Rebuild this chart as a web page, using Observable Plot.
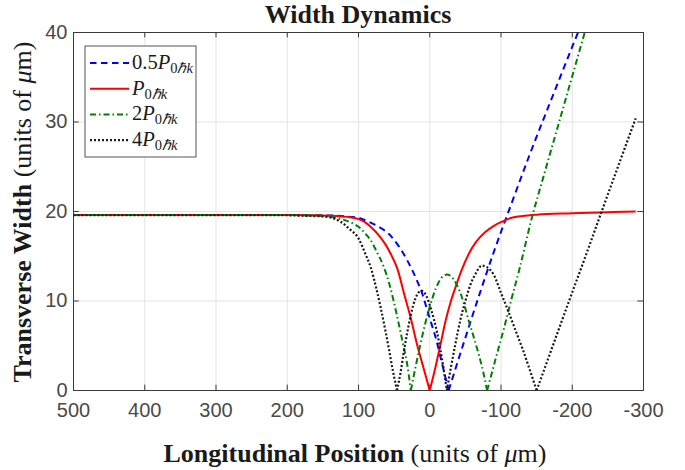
<!DOCTYPE html>
<html>
<head>
<meta charset="utf-8">
<script src="https://cdn.jsdelivr.net/npm/d3@7"></script>
<script src="https://cdn.jsdelivr.net/npm/@observablehq/plot@0.6"></script>
<style>
  html, body { margin: 0; padding: 0; background: #fff; }
  #chart { width: 685px; height: 470px; }
</style>
</head>
<body>
<div id="chart"></div>
<script>
// ---- data ----
const xTicks = [500, 400, 300, 200, 100, 0, -100, -200, -300];
const yTicks = [0, 10, 20, 30, 40];
const legendPrefix = ["0.5", "", "2", "4"];

const zHalf = [500,300,200,160,140,125,112,100,90,74,55,45,32,18,10,4,-3,-8,-17,-26.5,-36,-50,-70,-90,-112,-140,-175,-208];
const wHalf = [19.6,19.6,19.6,19.58,19.55,19.5,19.4,19.3,19.0,18.4,17.3,16.3,14.6,12.3,10.7,9.1,7.3,6.0,3.1,0,2.4,5.9,10.8,15.5,20.3,26.3,33.4,40];

const zOne = [500,300,200,160,140,125,112,100,90,83,70,62,55,45,36,27,18,9,0,-8,-15,-22,-29,-36,-45,-55,-65,-78,-90,-101,-115,-130,-150,-200,-250,-289];
const wOne = [19.6,19.6,19.6,19.58,19.52,19.45,19.35,19.15,18.75,18.3,17.2,16.3,15.3,13.5,10.8,8.2,5.2,2.6,0,2.6,5.1,7.7,9.8,11.5,13.5,15.3,16.6,17.7,18.4,18.85,19.3,19.5,19.65,19.8,19.92,20.0];

const zTwo = [500,300,200,160,145,135,122,110,100,89,83,75,65,56,51,42,37,32,26.5,20,13,6,-1,-8,-14,-19,-24,-30,-36,-42,-48,-55,-62,-68.5,-75,-80.5,-92,-104,-115,-126,-143,-160,-178,-217.5];
const wTwo = [19.6,19.6,19.6,19.55,19.45,19.35,19.1,18.75,18.3,17.4,16.8,15.6,13.9,11.7,10.1,6.9,5.0,3.1,0,2.6,5.2,7.6,9.6,11.3,12.3,12.8,12.96,12.75,12.1,11.1,9.7,7.7,5.9,4.1,2.1,0,3.4,6.9,10.3,13.6,19.2,24.0,29.0,40];

const zFour = [500,300,200,170,150,136,125,112,100,90,83,75,69,62,57,52,46,41,37,32,27,20,12,5,-1,-6,-10,-17,-24,-30,-36,-43,-50,-57,-64,-73,-80,-90,-100,-110,-120,-130,-140,-150,-160,-175,-196,-220,-239,-260,-289];
const wFour = [19.6,19.6,19.58,19.5,19.45,19.25,18.85,18.0,17.0,15.2,13.8,11.4,9.3,6.6,4.5,2.3,0,2.0,4.0,6.3,8.3,10.3,11.15,10.6,9.3,7.9,6.6,3.6,0,2.7,5.2,7.9,10.0,11.8,13.0,13.95,13.8,12.9,10.9,8.9,6.8,4.7,2.4,0,2.2,5.5,10.1,15.3,19.5,24.1,30.4];

// ---- styles ----
const seriesStyle = [
  {z: zHalf, w: wHalf, stroke: "#0000ff", dash: "6.5,4.5", width: 2},
  {z: zOne,  w: wOne,  stroke: "#ff0000", dash: null,    width: 2},
  {z: zTwo,  w: wTwo,  stroke: "#008000", dash: "6,3,1.5,3", width: 2},
  {z: zFour, w: wFour, stroke: "#1a1a1a", dash: "2,2",  width: 2.2}
];

// split each series at its zero points so cusps stay sharp while lobes stay smooth
const tables = seriesStyle.map(s => {
  const rows = [];
  let seg = 0;
  s.z.forEach((z, i) => {
    const w = s.w[i];
    rows.push({z, w, seg});
    if (w === 0 && i > 0 && i < s.z.length - 1) {
      seg++;
      rows.push({z, w, seg});
    }
  });
  return rows;
});

const axisColor = "#3a3a3a";
const gridColor = "#e3e3e3";

const chart = Plot.plot({
  width: 685,
  height: 470,
  marginLeft: 73,
  marginRight: 42,
  marginTop: 32,
  marginBottom: 80,
  style: {fontFamily: "'Liberation Sans', Arial, sans-serif", fontSize: "20px", color: "#4a4a4a", background: "#fff"},
  x: {domain: [500, -300], ticks: xTicks, tickFormat: d => String(d)},
  y: {domain: [0, 40], ticks: yTicks, tickFormat: d => String(d)},
  marks: [
    Plot.ruleX(xTicks.slice(1, -1), {stroke: gridColor, strokeWidth: 1}),
    Plot.ruleY(yTicks.slice(1, -1), {stroke: gridColor, strokeWidth: 1}),
    // inward ticks (bottom/top/left/right)
    Plot.ruleX(xTicks, {y1: 0, y2: 0.6, stroke: axisColor}),
    Plot.ruleX(xTicks, {y1: 40, y2: 39.4, stroke: axisColor}),
    Plot.ruleY(yTicks, {x1: 500, x2: 492, stroke: axisColor}),
    Plot.ruleY(yTicks, {x1: -300, x2: -292, stroke: axisColor}),
    ...seriesStyle.map((s, i) => Plot.line(tables[i], {
      x: "z", y: "w", z: "seg", stroke: s.stroke, strokeWidth: s.width,
      strokeDasharray: s.dash, strokeLinecap: "butt", strokeLinejoin: "round",
      curve: "monotone-x", clip: true
    })),
    Plot.frame({stroke: axisColor, strokeWidth: 1}),
    Plot.axisX({ticks: xTicks, tickSize: 0, tickPadding: 12, label: null, tickFormat: d => String(d)}),
    Plot.axisY({ticks: yTicks, tickSize: 0, tickPadding: 6, label: null, tickFormat: d => String(d)})
  ]
});

document.getElementById("chart").appendChild(chart);

const svg = d3.select(chart);
const serif = "'Liberation Serif', 'Times New Roman', serif";

// Title
svg.append("text")
  .attr("x", 358).attr("y", 23)
  .attr("text-anchor", "middle")
  .attr("font-family", serif).attr("font-size", 26).attr("font-weight", "bold")
  .attr("fill", "#1a1a1a")
  .text("Width Dynamics");

// X label
const xl = svg.append("text")
  .attr("x", 355).attr("y", 462)
  .attr("text-anchor", "middle")
  .attr("font-family", serif).attr("font-size", 26).attr("fill", "#1a1a1a");
xl.append("tspan").attr("font-weight", "bold").text("Longitudinal Position");
xl.append("tspan").text(" (units of ");
xl.append("tspan").attr("font-style", "italic").text("μ");
xl.append("tspan").text("m)");

// Y label
const yl = svg.append("text")
  .attr("transform", "translate(31,212) rotate(-90)")
  .attr("text-anchor", "middle")
  .attr("font-family", serif).attr("font-size", 26).attr("fill", "#1a1a1a");
yl.append("tspan").attr("font-weight", "bold").text("Transverse Width");
yl.append("tspan").text(" (units of ");
yl.append("tspan").attr("font-style", "italic").text("μ");
yl.append("tspan").text("m)");

// Legend
const lg = svg.append("g");
lg.append("rect").attr("x", 85).attr("y", 46).attr("width", 111).attr("height", 111)
  .attr("fill", "#fff").attr("stroke", "#555").attr("stroke-width", 1);
seriesStyle.forEach((s, i) => {
  const y = 63 + i * 25.7;
  lg.append("line").attr("x1", 90).attr("x2", 129).attr("y1", y).attr("y2", y)
    .attr("stroke", s.stroke).attr("stroke-width", s.width)
    .attr("stroke-dasharray", s.dash);
  const t = lg.append("text").attr("x", 132).attr("y", y + 6)
    .attr("text-anchor", "start")
    .attr("font-family", serif).attr("font-size", 20.5).attr("fill", "#1a1a1a");
  if (legendPrefix[i]) t.append("tspan").text(legendPrefix[i]);
  t.append("tspan").attr("font-style", "italic").text("P");
  t.append("tspan").attr("font-size", 14.5).attr("dy", 4).text("0");
  t.append("tspan").attr("font-size", 14.5).attr("font-style", "italic").text("ℏk");
});
</script>
</body>
</html>
